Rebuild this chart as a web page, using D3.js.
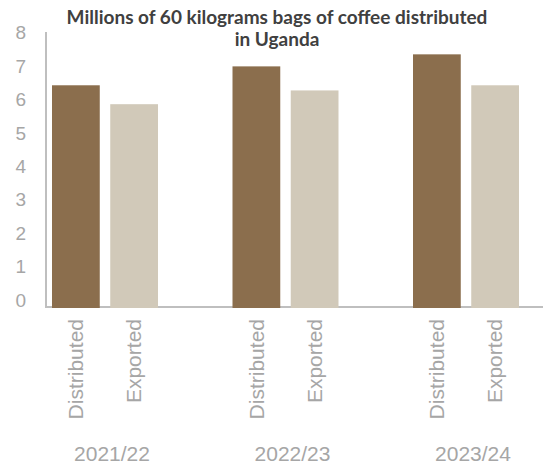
<!DOCTYPE html>
<html>
<head>
<meta charset="utf-8">
<script src="https://cdn.jsdelivr.net/npm/d3@7"></script>
<style>
  html, body { margin: 0; padding: 0; background: #ffffff; }
  svg { display: block; }
</style>
</head>
<body>
<svg id="chart" width="543" height="466"></svg>
<script>
// Coffee distributed vs exported, millions of 60 kg bags
const years = ["2021/22", "2022/23", "2023/24"];
const series = ["Distributed", "Exported"];
const distributed = [6.45, 7.0, 7.35];
const exported = [5.9, 6.3, 6.45];
const yTicks = [0, 1, 2, 3, 4, 5, 6, 7, 8];
const titleLines = ["Millions of 60 kilograms bags of coffee distributed", "in Uganda"];

const colors = { Distributed: "#8b6e4d", Exported: "#d1c9b9" };
const axisColor = "#bfbfbf";
const labelColor = "#a6a6a6";

const svg = d3.select("#chart");
const W = 543, H = 466;

const rows = years.flatMap((yr, i) => [
  { year: yr, series: "Distributed", value: distributed[i] },
  { year: yr, series: "Exported", value: exported[i] }
]);

const left = 46, baseY = 307, topY = 32;
const y = d3.scaleLinear().domain([0, 8]).range([baseY, topY]);
// tick labels sit slightly above their gridline positions near the bottom
const yLabel = y.copy().range([300, 32.7]);

const groupX = d3.scaleBand().domain(years).range([left, left + 3 * 180.5]).padding(0);
const barX = d3.scaleBand().domain(series).range([6, 112]).paddingInner(0.18).paddingOuter(0);

// axis lines
svg.append("line")
  .attr("x1", left).attr("x2", W)
  .attr("y1", baseY).attr("y2", baseY)
  .attr("stroke", axisColor).attr("stroke-width", 2);
svg.append("line")
  .attr("x1", left).attr("x2", left)
  .attr("y1", topY).attr("y2", baseY + 1)
  .attr("stroke", axisColor).attr("stroke-width", 2);

// bars
svg.append("g").selectAll("rect")
  .data(rows)
  .join("rect")
  .attr("x", d => groupX(d.year) + barX(d.series))
  .attr("width", barX.bandwidth())
  .attr("y", d => y(d.value))
  .attr("height", d => y(0) - y(d.value) + 1)
  .attr("fill", d => colors[d.series]);

// y tick labels
svg.append("g").selectAll("text")
  .data(yTicks)
  .join("text")
  .attr("x", 26)
  .attr("y", d => yLabel(d))
  .attr("dy", "0.35em")
  .attr("text-anchor", "end")
  .attr("font-family", "'Liberation Sans', Arial, sans-serif")
  .attr("font-size", 19)
  .attr("fill", labelColor)
  .text(d => d3.format("d")(d));

// rotated series labels under each bar
svg.append("g").selectAll("text")
  .data(rows)
  .join("text")
  .attr("transform", d => {
    const cx = groupX(d.year) + barX(d.series) + barX.bandwidth() / 2;
    return `translate(${cx},319) rotate(-90)`;
  })
  .attr("dy", "0.35em")
  .attr("text-anchor", "end")
  .attr("font-family", "'Liberation Sans', Arial, sans-serif")
  .attr("font-size", 21)
  .attr("fill", labelColor)
  .text(d => d.series);

// year labels
svg.append("g").selectAll("text")
  .data(years)
  .join("text")
  .attr("x", d => groupX(d) + (barX("Distributed") + barX("Exported") + barX.bandwidth()) / 2 + 7)
  .attr("y", 461)
  .attr("text-anchor", "middle")
  .attr("font-family", "'Liberation Sans', Arial, sans-serif")
  .attr("font-size", 21)
  .attr("fill", labelColor)
  .text(d => d);

// title, sized so the first line spans the intended width
const title = svg.append("g");
const tl = title.selectAll("text")
  .data(titleLines)
  .join("text")
  .attr("x", 277)
  .attr("y", (d, i) => 24 + i * 22)
  .attr("text-anchor", "middle")
  .attr("font-family", "Lato, 'Open Sans', sans-serif")
  .attr("font-weight", "bold")
  .attr("font-size", 16)
  .attr("fill", "#404040")
  .text(d => d);
const w0 = tl.nodes()[0].getComputedTextLength();
if (w0 > 0) tl.attr("font-size", 16 * 421 / w0);
</script>
</body>
</html>
